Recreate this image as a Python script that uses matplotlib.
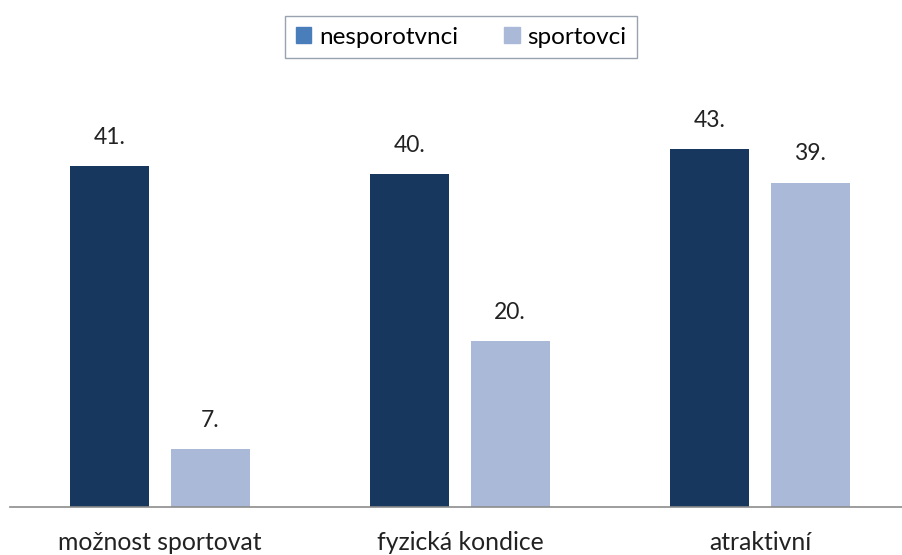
import matplotlib.pyplot as plt
import numpy as np
from matplotlib.patches import Patch

categories = ["možnost sportovat", "fyzická kondice", "atraktivní"]
nesportovci = [41, 40, 43]
sportovci = [7, 20, 39]
series_names = ["nesporotvnci", "sportovci"]

plt.rcParams['font.family'] = ['Lato', 'DejaVu Sans']

W, H = 903, 555
fig = plt.figure(figsize=(W / 100, H / 100), dpi=100)
ax = fig.add_axes([10 / W, 48 / H, 900 / W, 437 / H])

x = np.arange(len(categories))
bw = 0.263
dark = "#17375E"
light = "#A9B9D7"

b1 = ax.bar(x - 0.168, nesportovci, bw, color=dark)
b2 = ax.bar(x + 0.167, sportovci, bw, color=light)

for bars in (b1, b2):
    for rect in bars:
        ax.annotate("%d." % rect.get_height(),
                    (rect.get_x() + rect.get_width() / 2, rect.get_height()),
                    xytext=(0, 13), textcoords="offset points",
                    ha="center", va="bottom", fontsize=16.5, color="#222222")

ax.set_xlim(-0.5, 2.5)
ax.set_ylim(0, 437 / 8.32)
ax.set_xticks(x)
ax.set_xticklabels(categories, fontsize=17.8, color="#222222")
ax.tick_params(axis="x", length=0, pad=17)
ax.set_yticks([])
for s in ("top", "right", "left"):
    ax.spines[s].set_visible(False)
ax.spines["bottom"].set_color("#8C8C8C")
ax.spines["bottom"].set_linewidth(1.2)

handles = [Patch(color="#4A7EBB"), Patch(color=light)]
leg = fig.legend(handles, series_names, loc="center", bbox_to_anchor=(461 / W, 1 - 37 / H),
                 ncol=2, fontsize=17.5, frameon=True, fancybox=False,
                 handlelength=0.65, handleheight=0.65, handletextpad=0.3,
                 columnspacing=1.9, borderpad=0.45, borderaxespad=0)
leg.get_frame().set_edgecolor("#7F8C9B")
leg.get_frame().set_linewidth(1.0)

fig.savefig("out.png", dpi=100)
